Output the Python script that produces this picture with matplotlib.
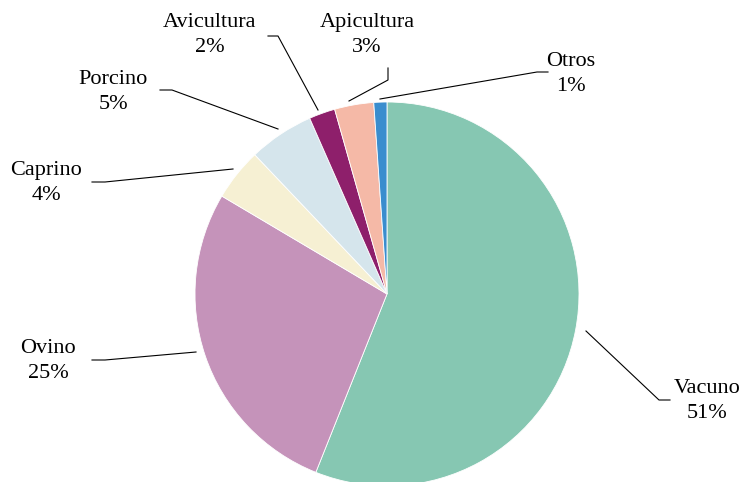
import matplotlib.pyplot as plt

# categories and their shares (labels show the rounded percentages)
categories = ["Vacuno", "Ovino", "Caprino", "Porcino", "Avicultura", "Apicultura", "Otros"]
values = [51, 25, 4, 5, 2, 3, 1]
pct_labels = ["51%", "25%", "4%", "5%", "2%", "3%", "1%"]
colors = ["#86C7B2", "#C593BA", "#F6F0D3", "#D5E5EC", "#8E1F6B", "#F5B9A7", "#3A8DCE"]

W, H = 743, 482
fig = plt.figure(figsize=(W / 100, H / 100), dpi=100)
ax = fig.add_axes([0, 0, 1, 1])

def py(y):
    # pixel row -> axis y (y up)
    return H - y

ax.pie(values, colors=colors, startangle=90, counterclock=False,
       center=(387, py(294)), radius=192, frame=True,
       wedgeprops=dict(edgecolor="white", linewidth=0.6))
ax.set_xlim(0, W)
ax.set_ylim(0, H)
ax.set_aspect("equal")
ax.axis("off")

# label placement (pixel coords) and leader lines
label_pos = [(707, 401), (48, 361), (46, 183), (113, 92), (210, 35), (367, 35), (571, 74)]
leaders = [
    [(586, 331), (659, 400), (670, 400)],
    [(196, 352), (105, 360), (92, 360)],
    [(233, 169), (105, 182), (92, 182)],
    [(278, 129), (172, 90), (160, 90)],
    [(318, 110), (278, 36), (268, 36)],
    [(349, 101), (388, 80), (388, 68)],
    [(380, 99), (537, 72), (548, 72)],
]

for cat, pct, (lx, ly), pts in zip(categories, pct_labels, label_pos, leaders):
    ax.text(lx, py(ly), f"{cat}\n{pct}", ha="center", va="center",
            fontsize=16, family="Liberation Serif", linespacing=1.4)
    xs = [p[0] for p in pts]
    ys = [py(p[1]) for p in pts]
    ax.plot(xs, ys, color="black", linewidth=0.8)

fig.savefig("out.png", dpi=100)
